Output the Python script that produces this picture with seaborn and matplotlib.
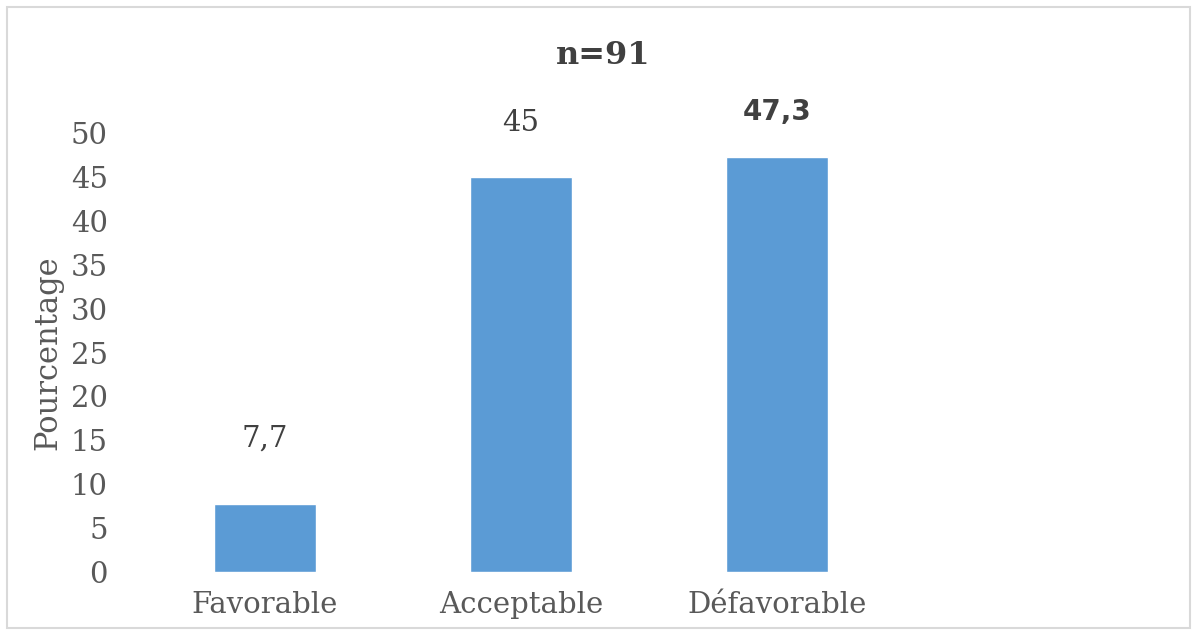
import numpy as np
import pandas as pd
import seaborn as sns
import matplotlib.pyplot as plt
from matplotlib.patches import Rectangle

# Data
categories = ["Favorable", "Acceptable", "Défavorable"]
values = [7.7, 45, 47.3]
value_labels = ["7,7", "45", "47,3"]
label_bold = [False, False, True]
label_offsets = [52, 40, 31]   # pixels above bar top
y_ticks = [0, 5, 10, 15, 20, 25, 30, 35, 40, 45, 50]

df = pd.DataFrame({"cat": categories, "val": values})

sns.set_theme(style="white")
plt.rcParams["font.family"] = ["DejaVu Serif"]

W, H = 1197, 635
fig = plt.figure(figsize=(W / 100, H / 100), dpi=100, facecolor="white")
ax = fig.add_axes([137 / W, (H - 572) / H, (905 - 137) / W, (572 - 133) / H])

sns.barplot(data=df, x="cat", y="val", color="#5B9BD5", saturation=1,
            width=0.4, ax=ax)

ax.set_xlim(-0.5, 2.5)
ax.set_ylim(0, 50)
ax.set_yticks(y_ticks)
ax.set_yticklabels([str(t) for t in y_ticks], fontsize=21, color="#595959")
ax.set_xticks(range(len(categories)))
ax.set_xticklabels(categories, fontsize=21, color="#595959")
ax.tick_params(axis="y", length=0, pad=21)
ax.tick_params(axis="x", length=0, pad=14)
for s in ax.spines.values():
    s.set_visible(False)
ax.set_xlabel("")
ax.set_ylabel("Pourcentage", fontsize=22, color="#595959", labelpad=5)

# Value labels
for i, (v, lab, b, off) in enumerate(zip(values, value_labels, label_bold, label_offsets)):
    if b:
        ax.annotate(lab, (i, v), xytext=(0, off * 0.72), textcoords="offset points",
                    ha="center", va="bottom", fontsize=20, fontweight="bold",
                    color="#404040", family="DejaVu Sans")
    else:
        ax.annotate(lab, (i, v), xytext=(0, off * 0.72), textcoords="offset points",
                    ha="center", va="bottom", fontsize=21, color="#404040")

fig.text(603 / W, 1 - 55 / H, "n=91", ha="center", va="center", fontsize=23,
         fontweight="bold", color="#404040")

# Chart border
fig.patches.append(Rectangle((7 / W, 7 / H), (1190 - 7) / W, (628 - 7) / H,
                             transform=fig.transFigure, fill=False,
                             edgecolor="#D9D9D9", linewidth=1.5))

fig.savefig("out.png", dpi=100, facecolor="white")
